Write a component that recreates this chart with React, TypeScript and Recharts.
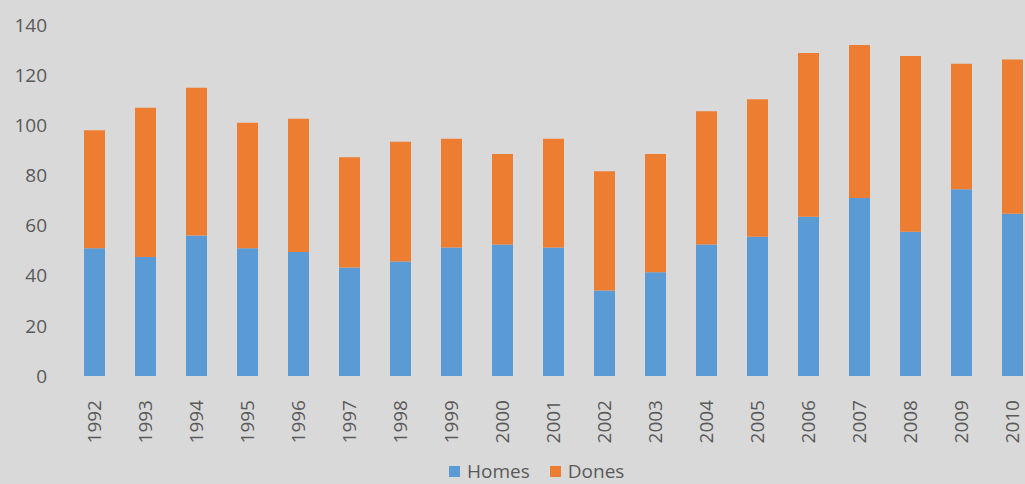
import React from 'react';
import { BarChart, Bar, XAxis, YAxis, Legend } from 'recharts';

const years = ['1992','1993','1994','1995','1996','1997','1998','1999','2000','2001','2002','2003','2004','2005','2006','2007','2008','2009','2010'];
const homes = [51, 47.5, 56, 51, 49.5, 43.3, 45.7, 51.3, 52.5, 51.3, 34.1, 41.4, 52.5, 55.5, 63.5, 71, 57.5, 74.5, 64.7];
const totals = [98, 107, 115, 101, 102.6, 87.3, 93.4, 94.6, 88.5, 94.6, 81.7, 88.5, 105.6, 110.4, 128.8, 132, 127.6, 124.5, 126.2];
const yTicks = [0, 20, 40, 60, 80, 100, 120, 140];

const data = years.map((y, i) => ({ year: y, Homes: homes[i], Dones: +(totals[i] - homes[i]).toFixed(1) }));

const FONT = '"Open Sans", sans-serif';
const TEXT = '#595959';
const BLUE = '#5b9bd5';
const ORANGE = '#ed7d31';

const XTick = (props: any) => {
  const { x, y, payload } = props;
  return (
    <g transform={`translate(${x},${y})`}>
      <text transform="rotate(-90)" x={-16} y={0} dy="0.36em" textAnchor="end" fill={TEXT} fontSize={19} fontFamily={FONT}>
        {payload.value}
      </text>
    </g>
  );
};

const LegendContent = () => (
  <div style={{ display: 'flex', alignItems: 'center', fontFamily: FONT, fontSize: 19, lineHeight: '24px', color: TEXT, whiteSpace: 'nowrap' }}>
    <span style={{ display: 'inline-block', width: 11, height: 11, background: BLUE, marginRight: 7 }} />
    <span style={{ marginRight: 20 }}>Homes</span>
    <span style={{ display: 'inline-block', width: 11, height: 11, background: ORANGE, marginRight: 7 }} />
    <span>Dones</span>
  </div>
);

export default function App() {
  return (
    <div style={{ position: 'fixed', left: 0, top: 0, width: 1025, height: 484, overflow: 'hidden', background: '#d9d9d9' }}>
      <BarChart width={1038} height={484} data={data} margin={{ top: 25, right: 0, left: 0, bottom: 0 }}>
        <XAxis dataKey="year" axisLine={false} tickLine={false} interval={0} height={84} tick={<XTick />} />
        <YAxis domain={[0, 140]} ticks={yTicks} axisLine={false} tickLine={false} tickSize={0} tickMargin={22} width={69}
          tick={{ fill: TEXT, fontSize: 19, fontFamily: FONT }} />
        <Legend verticalAlign="bottom" content={<LegendContent />} wrapperStyle={{ left: 449, top: 459, bottom: 'auto', width: 300 }} />
        <Bar dataKey="Homes" stackId="a" fill={BLUE} barSize={21} isAnimationActive={false} />
        <Bar dataKey="Dones" stackId="a" fill={ORANGE} barSize={21} isAnimationActive={false} />
      </BarChart>
    </div>
  );
}
